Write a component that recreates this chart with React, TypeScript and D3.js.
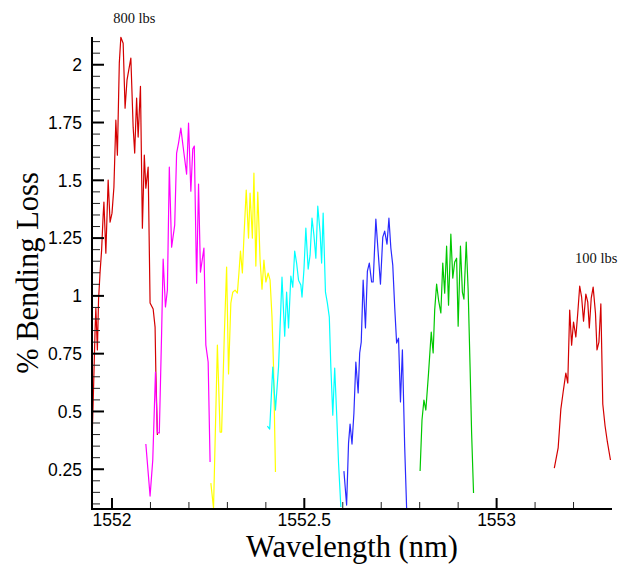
import * as d3 from "d3";

// wavelength (nm) / % bending loss, one pair of arrays per load step
const red800Wl = [1551.948, 1551.951, 1551.956, 1551.958, 1551.962, 1551.965, 1551.969, 1551.973, 1551.977, 1551.979, 1551.984, 1551.990, 1551.995, 1552.000, 1552.005, 1552.010, 1552.014, 1552.019, 1552.023, 1552.029, 1552.034, 1552.039, 1552.049, 1552.055, 1552.059, 1552.064, 1552.068, 1552.074, 1552.079, 1552.084, 1552.088, 1552.094, 1552.099, 1552.107, 1552.112, 1552.114, 1552.118];
const red800Loss = [0.376, 0.536, 0.852, 0.947, 0.766, 0.982, 1.103, 1.198, 1.349, 1.406, 1.185, 1.501, 1.319, 1.358, 1.471, 1.760, 1.609, 2.007, 2.119, 2.093, 1.812, 1.933, 2.029, 1.730, 1.618, 1.856, 1.687, 1.907, 1.293, 1.609, 1.466, 1.557, 0.969, 0.943, 0.865, 0.670, 0.398];

const magentaWl = [1552.088, 1552.099, 1552.106, 1552.113, 1552.118, 1552.123, 1552.129, 1552.133, 1552.139, 1552.144, 1552.149, 1552.155, 1552.163, 1552.168, 1552.173, 1552.179, 1552.185, 1552.194, 1552.199, 1552.205, 1552.210, 1552.214, 1552.220, 1552.225, 1552.230, 1552.239, 1552.244, 1552.250, 1552.255];
const magentaLoss = [0.359, 0.134, 0.290, 0.670, 0.407, 0.407, 0.839, 1.159, 0.952, 1.025, 1.557, 1.211, 1.306, 1.618, 1.661, 1.726, 1.644, 1.527, 1.747, 1.453, 1.635, 1.648, 1.055, 1.484, 1.103, 1.207, 0.787, 0.714, 0.281];

const yellowWl = [1552.257, 1552.264, 1552.274, 1552.281, 1552.285, 1552.292, 1552.298, 1552.303, 1552.309, 1552.314, 1552.320, 1552.326, 1552.330, 1552.334, 1552.339, 1552.343, 1552.349, 1552.355, 1552.359, 1552.365, 1552.369, 1552.374, 1552.379, 1552.385, 1552.390, 1552.395, 1552.400, 1552.406, 1552.411, 1552.416, 1552.420, 1552.425];
const yellowLoss = [0.190, 0.082, 0.787, 0.411, 0.411, 0.830, 1.125, 0.662, 0.969, 1.016, 1.025, 1.012, 1.099, 1.194, 1.099, 1.254, 1.458, 1.250, 1.445, 1.250, 1.531, 1.129, 1.449, 1.155, 1.029, 1.155, 1.060, 1.099, 1.068, 0.908, 0.692, 0.238];

const cyanWl = [1552.404, 1552.410, 1552.418, 1552.425, 1552.433, 1552.442, 1552.449, 1552.454, 1552.459, 1552.465, 1552.470, 1552.475, 1552.480, 1552.485, 1552.491, 1552.494, 1552.499, 1552.504, 1552.510, 1552.515, 1552.520, 1552.525, 1552.530, 1552.535, 1552.541, 1552.545, 1552.549, 1552.555, 1552.560, 1552.565, 1552.569, 1552.574, 1552.579, 1552.584, 1552.589, 1552.595];
const cyanLoss = [0.437, 0.424, 0.692, 0.506, 0.692, 1.081, 0.826, 1.016, 0.861, 1.086, 1.038, 1.194, 1.142, 1.068, 1.047, 0.995, 1.112, 1.293, 1.116, 1.176, 1.336, 1.263, 1.163, 1.388, 1.276, 1.142, 1.358, 1.016, 0.969, 0.908, 0.692, 0.484, 0.688, 0.493, 0.277, 0.087];

const blueWl = [1552.603, 1552.610, 1552.615, 1552.619, 1552.624, 1552.629, 1552.634, 1552.640, 1552.644, 1552.648, 1552.653, 1552.659, 1552.664, 1552.669, 1552.675, 1552.679, 1552.686, 1552.692, 1552.698, 1552.704, 1552.709, 1552.715, 1552.720, 1552.725, 1552.730, 1552.735, 1552.740, 1552.745, 1552.750, 1552.755, 1552.761, 1552.766];
const blueLoss = [0.242, 0.095, 0.363, 0.445, 0.359, 0.493, 0.714, 0.580, 0.753, 0.800, 1.068, 0.861, 1.107, 1.142, 1.060, 1.060, 1.332, 1.189, 1.051, 1.254, 1.280, 1.224, 1.336, 1.207, 1.133, 0.952, 0.796, 0.817, 0.541, 0.766, 0.346, 0.082];

const greenWl = [1552.801, 1552.806, 1552.811, 1552.816, 1552.823, 1552.830, 1552.835, 1552.839, 1552.844, 1552.849, 1552.855, 1552.860, 1552.865, 1552.870, 1552.875, 1552.881, 1552.886, 1552.891, 1552.896, 1552.900, 1552.906, 1552.911, 1552.915, 1552.921, 1552.926, 1552.931, 1552.935, 1552.940];
const greenLoss = [0.242, 0.463, 0.549, 0.506, 0.666, 0.843, 0.753, 0.939, 1.051, 0.982, 0.926, 1.142, 1.012, 1.215, 0.960, 1.267, 1.077, 1.146, 1.163, 0.869, 1.215, 1.016, 0.986, 1.233, 1.025, 0.692, 0.407, 0.147];

const red100Wl = [1553.150, 1553.160, 1553.167, 1553.173, 1553.180, 1553.185, 1553.190, 1553.195, 1553.200, 1553.206, 1553.211, 1553.216, 1553.221, 1553.226, 1553.232, 1553.237, 1553.241, 1553.246, 1553.251, 1553.257, 1553.261, 1553.266, 1553.271, 1553.276, 1553.282, 1553.288, 1553.296];
const red100Loss = [0.255, 0.342, 0.510, 0.584, 0.666, 0.623, 0.939, 0.787, 0.887, 0.822, 0.926, 1.042, 0.995, 0.891, 1.008, 0.973, 0.861, 0.990, 1.038, 0.926, 0.766, 0.800, 0.965, 0.532, 0.437, 0.368, 0.290];

const seriesColors = ["#d40000", "#ff00ff", "#ffff00", "#00ffff", "#2a2aff", "#00c800", "#d40000"];

const xTicks = [1552, 1552.5, 1553];
const xTickLabels = ["1552", "1552.5", "1553"];
const yTicks = [0.25, 0.5, 0.75, 1, 1.25, 1.5, 1.75, 2];
const yTickLabels = ["0.25", "0.5", "0.75", "1", "1.25", "1.5", "1.75", "2"];

const loadLabels = ["800 lbs", "100 lbs"];
const loadLabelWl = [1552.003, 1553.204];
const loadLabelLoss = [2.18, 1.142];

const serif = "'Liberation Serif', 'Times New Roman', serif";
const sans = "'Liberation Sans', Arial, sans-serif";

export default function App() {
  const width = 618, height = 569;
  const left = 92, right = 612, top = 37, bottom = 509;

  const x = d3.scaleLinear().domain([1551.948, 1553.3]).range([left, right]);
  const y = d3.scaleLinear().domain([0.078, 2.12]).range([bottom, top]);

  const series = [
    [red800Wl, red800Loss],
    [magentaWl, magentaLoss],
    [yellowWl, yellowLoss],
    [cyanWl, cyanLoss],
    [blueWl, blueLoss],
    [greenWl, greenLoss],
    [red100Wl, red100Loss],
  ].map(([wl, loss], i) => ({
    color: seriesColors[i],
    points: wl.map((w, j) => [w, loss[j]] as [number, number]),
  }));

  const line = d3
    .line<[number, number]>()
    .x((d) => x(d[0]))
    .y((d) => y(d[1]));

  const yMinor = d3.range(0.1, 2.101, 0.05).filter((v) => !yTicks.some((t) => Math.abs(t - v) < 1e-6));
  const xMinor = d3.range(1552.1, 1553.25, 0.1).filter((v) => !xTicks.some((t) => Math.abs(t - v) < 1e-6));

  return (
    <svg width={width} height={height} style={{ position: "absolute", left: 0, top: 0, background: "#fff" }}>
      <defs>
        <clipPath id="plot">
          <rect x={left} y={top - 5} width={right - left} height={bottom - top + 5} />
        </clipPath>
      </defs>

      <g clipPath="url(#plot)">
        {series.map((s, i) => (
          <path key={i} d={line(s.points) || ""} fill="none" stroke={s.color} strokeWidth={1.2} strokeLinejoin="round" />
        ))}
      </g>

      {/* y axis */}
      {yMinor.map((v, i) => (
        <line key={"ym" + i} x1={left} x2={left + 8} y1={y(v)} y2={y(v)} stroke="#222" strokeWidth={1} />
      ))}
      {yTicks.map((v, i) => (
        <g key={"yt" + i}>
          <line x1={left} x2={left + 12} y1={y(v)} y2={y(v)} stroke="#000" strokeWidth={2} />
          <text x={82} y={y(v)} dy="0.36em" textAnchor="end" fontFamily={sans} fontSize={17.5} fill="#000">
            {yTickLabels[i]}
          </text>
        </g>
      ))}
      <line x1={left} x2={left} y1={top} y2={bottom + 1} stroke="#000" strokeWidth={2} />

      {/* x axis */}
      {xMinor.map((v, i) => (
        <line key={"xm" + i} x1={x(v)} x2={x(v)} y1={bottom} y2={bottom - 7} stroke="#222" strokeWidth={1} />
      ))}
      {xTicks.map((v, i) => (
        <g key={"xt" + i}>
          <line x1={x(v)} x2={x(v)} y1={bottom} y2={bottom - 11} stroke="#000" strokeWidth={2} />
          <text x={x(v)} y={526} textAnchor="middle" fontFamily={sans} fontSize={17.5} fill="#000">
            {xTickLabels[i]}
          </text>
        </g>
      ))}
      <line x1={left - 1} x2={right} y1={bottom} y2={bottom} stroke="#000" strokeWidth={2} />

      {/* titles */}
      <text x={352} y={557} textAnchor="middle" fontFamily={serif} fontSize={30.5} fill="#000">
        Wavelength (nm)
      </text>
      <text transform="translate(38,273) rotate(-90)" textAnchor="middle" fontFamily={serif} fontSize={30.5} fill="#000">
        % Bending Loss
      </text>

      {loadLabels.map((t, i) => (
        <text key={t} x={x(loadLabelWl[i])} y={y(loadLabelLoss[i])} fontFamily={serif} fontSize={14.5} fill="#111">
          {t}
        </text>
      ))}
    </svg>
  );
}
